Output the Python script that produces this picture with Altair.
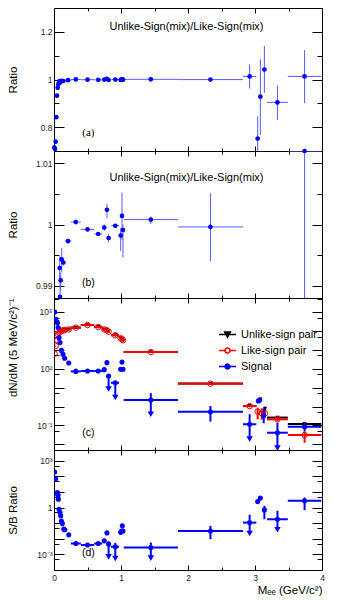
import altair as alt
import pandas as pd

FONT = "Liberation Sans"
W = 268
HA, HB, HC, HD = 143, 147, 152, 120

# ---------------- panel (a): Unlike-Sign(mix)/Like-Sign(mix) ----------------
a_mass = [0.005, 0.015, 0.025, 0.035, 0.045, 0.055, 0.065, 0.075, 0.085, 0.09, 0.10, 0.115, 0.14, 0.21,
          0.325, 0.50, 0.66, 0.75, 0.79, 0.815, 0.915, 0.995, 1.015, 1.03, 1.445, 2.335,
          2.92, 3.04, 3.08, 3.14, 3.335, 3.74]
a_val = [0.715, 0.708, 0.739, 0.842, 0.932, 0.965, 0.980, 0.986, 0.9929, 0.9882, 0.9909, 0.9943, 0.9938, 0.9973,
         1.0004, 0.9992, 0.9985, 0.9995, 1.0024, 0.9978, 0.9998, 0.9982, 1.0014, 0.9991, 1.0008, 0.9996,
         1.013, 0.752, 0.928, 1.042, 0.904, 1.013]
a_edn = [0, 0, 0, 0, 0, 0, 0, 0, 0, 0, 0, 0, 0, 0, 0, 0, 0, 0, 0, 0, 0, 0, 0, 0, 0, 0,
         0.051, 0.10, 0.161, 0.098, 0.073, 0.112]
a_eup = [0, 0, 0, 0, 0, 0, 0, 0, 0, 0, 0, 0, 0, 0, 0, 0, 0, 0, 0, 0, 0, 0, 0, 0, 0, 0,
         0.050, 0.093, 0.157, 0.099, 0.071, 0.110]
a_xw = [0, 0, 0, 0, 0, 0, 0, 0, 0, 0, 0, 0, 0, 0.05, 0.075, 0.10, 0.06, 0, 0, 0, 0.06, 0, 0, 0, 0.405, 0.485,
        0.10, 0, 0, 0, 0.155, 0.25]

# ---------------- panel (b): zoom of the same ratio ----------------
b_mass = [0.085, 0.09, 0.10, 0.115, 0.14, 0.21, 0.325, 0.50, 0.66, 0.75, 0.79, 0.815, 0.915, 0.995, 1.015,
          1.03, 1.445, 2.335, 3.74]
b_val = [0.9929, 0.9882, 0.9909, 0.9943, 0.9938, 0.9973, 1.0004, 0.9992, 0.99845, 0.9995, 1.0024, 0.9978,
         0.9998, 0.9982, 1.0014, 0.9991, 1.0008, 0.9996, 1.012]
b_edn = [0.0019, 0.0010, 0.0017, 0.0021, 0.0005, 0.0004, 0.0002, 0.0001, 0.0002, 0.0005, 0.0014, 0.0007,
         0.0003, 0.0025, 0.0039, 0.0045, 0.0007, 0.0056, 0.030]
b_eup = [0.0019, 0.0034, 0.0013, 0.0019, 0.0005, 0.0004, 0.0002, 0.0001, 0.0002, 0.0005, 0.0010, 0.0007,
         0.0003, 0.0012, 0.0038, 0.0009, 0.0005, 0.0055, 0.0]
b_xw = [0, 0, 0, 0, 0, 0.05, 0.075, 0.10, 0.06, 0, 0, 0, 0.06, 0, 0, 0, 0.405, 0.485, 0.25]

# ---------------- panel (c): dN/dM ----------------
SERIES = ["Unlike-sign pair", "Like-sign pair", "Signal"]

c_sig_mass = [0.01, 0.025, 0.05, 0.06, 0.075, 0.09, 0.11, 0.135, 0.16, 0.22, 0.325, 0.50, 0.66, 0.75, 0.79,
              0.815, 0.915, 0.995, 1.015, 1.03, 1.445, 2.335, 2.92, 3.05, 3.07, 3.13, 3.335, 3.74]
c_sig_val = [1.0e5, 4.1e4, 2.7e4, 1.5e4, 4.4e3, 2.4e3, 930, 575, 355, 200, 72, 76, 76, 89, 209,
             41, 18, 93, 224, 93, 2.2, 0.52, 0.115, 1.95, 2.2, 0.32, 0.041, 0.085]
c_sig_lo = [None, None, None, None, None, None, None, None, None, None, 52, None, None, 70, None,
            None, None, None, None, None, 2.2, 0.16, 0.115, 1.6, 1.8, 0.13, 0.041, 0.05]
c_sig_hi = [None, None, None, None, None, None, None, None, None, None, 100, None, None, 115, None,
            None, None, None, None, None, 5.1, 1.06, 0.39, 2.3, 2.6, 0.8, 0.14, 0.14]
c_sig_xlo = [None, None, None, None, None, None, None, None, None, 0.19, 0.25, 0.40, 0.60, None, None,
             None, 0.85, None, None, None, 1.04, 1.85, 2.82, None, None, None, 3.18, 3.49]
c_sig_xhi = [None, None, None, None, None, None, None, None, None, 0.25, 0.40, 0.60, 0.72, None, None,
             None, 0.97, None, None, None, 1.85, 2.82, 3.02, None, None, None, 3.49, 3.99]
c_sig_tip = [None, None, None, None, None, None, None, None, None, None, None, None, None, None, None,
             8.5, 3.0, None, None, None, 0.39, None, 0.019, None, None, None, 0.0063, None]

c_like_mass = [0.01, 0.025, 0.05, 0.06, 0.075, 0.09, 0.11, 0.135, 0.16, 0.22, 0.325, 0.50, 0.66, 0.75, 0.79,
               0.815, 0.915, 0.995, 1.015, 1.03, 1.445, 2.335, 2.92, 3.04, 3.10, 3.15, 3.335, 3.74]
c_like_val = [620, 1600, 3200, 6600, 7900, 9100, 10000, 10700, 11200, 12000, 14800, 20400, 16200, 12000, 10700,
              9100, 5900, 4100, 3600, 3200, 760, 16, 1.05, 0.54, 0.44, 0.44, 0.21, 0.031]
c_like_lo = [None, None, None, None, None, None, None, None, None, None, None, None, None, None, None,
             None, None, None, None, None, None, None, None, 0.21, 0.2, 0.3, 0.17, 0.012]
c_like_hi = [None, None, None, None, None, None, None, None, None, None, None, None, None, None, None,
             None, None, None, None, None, None, None, None, 0.87, 0.8, 0.6, 0.26, 0.05]
c_like_xlo = [0.005, 0.02, 0.045, 0.055, 0.07, 0.08, 0.10, 0.12, 0.15, 0.17, 0.25, 0.40, 0.60, 0.72, 0.78,
              0.80, 0.85, 0.99, 1.01, 1.02, 1.04, 1.85, 2.82, None, None, None, 3.18, 3.49]
c_like_xhi = [0.015, 0.03, 0.055, 0.065, 0.08, 0.10, 0.12, 0.15, 0.17, 0.25, 0.40, 0.60, 0.72, 0.77, 0.80,
              0.83, 0.97, 1.00, 1.02, 1.04, 1.85, 2.82, 3.02, None, None, None, 3.49, 3.99]

c_unl_mass = [0.01, 0.025, 0.05, 0.06, 0.075, 0.09, 0.11, 0.135, 0.16, 0.22, 0.325, 0.50, 0.66, 0.75, 0.79,
              0.815, 0.915, 0.995, 1.015, 1.03, 1.445, 2.335, 2.92, 3.05, 3.08, 3.15, 3.335, 3.74]
c_unl_val = [1.0e5, 4.3e4, 3.0e4, 2.2e4, 1.23e4, 1.15e4, 1.1e4, 1.13e4, 1.15e4, 1.22e4, 14900, 20500, 16300,
             12100, 10900, 9150, 5950, 4200, 3800, 3300, 765, 16.5, 1.07, 2.0, 2.4, 0.76, 0.26, 0.12]
c_unl_lo = [None, None, None, None, None, None, None, None, None, None, None, None, None, None, None,
            None, None, None, None, None, None, None, None, None, 2.0, 0.6, None, None]
c_unl_hi = [None, None, None, None, None, None, None, None, None, None, None, None, None, None, None,
            None, None, None, None, None, None, None, None, None, 2.9, 1.0, None, None]
c_unl_xlo = c_like_xlo
c_unl_xhi = c_like_xhi

# ---------------- panel (d): S/B ratio ----------------
d_mass = [0.01, 0.025, 0.05, 0.055, 0.06, 0.065, 0.075, 0.09, 0.10, 0.11, 0.125, 0.145, 0.16, 0.22, 0.325,
          0.50, 0.66, 0.75, 0.79, 0.815, 0.915, 0.995, 1.01, 1.02, 1.03, 1.445, 2.335, 2.92, 3.04, 3.08,
          3.14, 3.335, 3.74]
d_val = [195, 68, 9.3, 7.9, 6.3, 3.5, 0.79, 0.49, 0.30, 0.14, 0.095, 0.042, 0.038, 0.018, 0.0050,
         0.0040, 0.0050, 0.0074, 0.024, 0.0046, 0.0031, 0.026, 0.032, 0.068, 0.032, 0.0028, 0.032, 0.11, 2.5, 4.1,
         0.72, 0.18, 2.75]
d_lo = [None, None, None, None, None, None, None, None, None, None, None, None, None, None, None,
        None, None, None, None, 0.0046, 0.0031, None, None, None, None, 0.0028, 0.0095, 0.11, 2.0, 3.4,
        0.18, 0.18, 0.69]
d_hi = [None, None, None, None, None, None, None, None, None, None, None, None, None, None, None,
        None, None, None, None, 0.007, 0.0055, None, None, None, None, 0.0058, 0.068, 0.35, 3.1, 5.0,
        1.3, 0.63, 4.5]
d_xlo = [None, None, None, None, None, None, None, None, None, None, None, None, None, None, 0.25,
         0.40, 0.60, None, None, None, 0.85, None, None, None, None, 1.04, 1.85, 2.82, None, None,
         None, 3.18, 3.49]
d_xhi = [None, None, None, None, None, None, None, None, None, None, None, None, None, None, 0.40,
         0.60, 0.72, None, None, None, 0.97, None, None, None, None, 1.85, 2.82, 3.02, None, None,
         None, 3.49, 3.99]
d_tip = [None, None, None, None, None, None, None, None, None, None, None, None, None, None, None,
         None, None, None, None, 0.0007, 0.00055, None, None, None, None, 0.00058, None, 0.022, None, None,
         None, 0.038, None]

# ---------------- tick values ----------------
X_MAJOR = [0, 1, 2, 3, 4]
X_MINOR = [0.5, 1.5, 2.5, 3.5]
A_MAJOR, A_MINOR = [0.8, 1.0, 1.2], [0.9, 1.1]
B_MAJOR, B_MINOR = [0.99, 1.0, 1.01], [0.995, 1.005]
C_MAJOR = [1e-2, 1e-1, 1, 10, 100, 1e3, 1e4, 1e5]
C_MINOR = [5e-2, 0.5, 5, 50, 500, 5e3, 5e4, 5e5]
D_MAJOR = [1e-3, 1e-2, 1e-1, 1, 10, 100, 1e3]
D_MINOR = [5e-4, 5e-3, 5e-2, 0.5, 5, 50, 500]

XS = alt.Scale(domain=[0, 4], nice=False, zero=False)
YS_A = alt.Scale(domain=[0.7, 1.3], nice=False, zero=False)
YS_B = alt.Scale(domain=[0.988, 1.012], nice=False, zero=False)
YS_C = alt.Scale(type="log", domain=[5e-3, 5.5e5], nice=False)
YS_D = alt.Scale(type="log", domain=[1e-4, 5e3], nice=False)


def frame_sym(mass, val, edn, eup, xw):
    return pd.DataFrame({"m": mass, "v": val,
                         "lo": [v - e for v, e in zip(val, edn)],
                         "hi": [v + e for v, e in zip(val, eup)],
                         "xlo": [m - w for m, w in zip(mass, xw)],
                         "xhi": [m + w for m, w in zip(mass, xw)]})


def frame_abs(mass, val, lo, hi, xlo, xhi, tip=None):
    return pd.DataFrame({"m": mass, "v": val, "lo": lo, "hi": hi, "xlo": xlo, "xhi": xhi,
                         "tip": tip if tip is not None else [None] * len(mass)})


def xq(f):
    return alt.X(f"{f}:Q", scale=XS, axis=None)


def yq(f, ys):
    return alt.Y(f"{f}:Q", scale=ys, axis=None)


def hbars(df, ys, color, sw):
    return (alt.Chart(df).transform_filter("isValid(datum.xlo) && isValid(datum.xhi) && datum.xhi > datum.xlo")
            .mark_rule(color=color, strokeWidth=sw, clip=True)
            .encode(x=xq("xlo"), x2="xhi:Q", y=yq("v", ys)))


def vbars(df, ys, color, sw):
    return (alt.Chart(df).transform_filter("isValid(datum.lo) && isValid(datum.hi) && datum.hi > datum.lo")
            .mark_rule(color=color, strokeWidth=sw, clip=True)
            .encode(x=xq("m"), y=yq("lo", ys), y2="hi:Q"))


def arrows(df, ys, color, sw):
    base = alt.Chart(df).transform_filter("isValid(datum.tip)")
    line = base.mark_rule(color=color, strokeWidth=sw, clip=True).encode(x=xq("m"), y=yq("tip", ys), y2="v:Q")
    head = base.mark_point(shape="triangle-down", filled=True, color=color, size=42, opacity=1,
                           clip=True).encode(x=xq("m"), y=yq("tip", ys))
    return [line, head]


def dots(df, ys, color, size, clip=True):
    return (alt.Chart(df).mark_point(shape="circle", filled=True, color=color, size=size, opacity=1, clip=clip)
            .encode(x=xq("m"), y=yq("v", ys)))


def axis_layers(ys, ydummy, ymaj, ymin, ytitle, ylab_expr=None, yfmt=None, title_anchor="middle",
                xlabels=False, xtitle=None):
    dummy = pd.DataFrame({"x": [2.0], "y": [ydummy]})
    common = dict(domain=False, grid=False, tickColor="black", tickWidth=1)

    def xa(orient, vals, size, labels=False, title=None):
        kw = dict(orient=orient, values=vals, tickSize=size, offset=-size, labels=labels, title=title, **common)
        if labels:
            kw.update(labelFont=FONT, labelFontSize=8.5, labelColor="#222", labelPadding=3,
                      labelOverlap=False, labelFlush=False)
        if title:
            kw.update(titleFont=FONT, titleFontSize=11.5, titleFontWeight="normal", titleColor="black",
                      titleAnchor="end", titlePadding=3)
        return alt.Axis(**kw)

    def ya(orient, vals, size, labels=False, title=None):
        kw = dict(orient=orient, values=vals, tickSize=size, offset=-size, labels=labels, title=title, **common)
        if labels:
            kw.update(labelFont=FONT, labelFontSize=8.5, labelColor="#222", labelPadding=2,
                      labelOverlap=False)
            if ylab_expr:
                kw["labelExpr"] = ylab_expr
            if yfmt:
                kw["format"] = yfmt
        if title:
            kw.update(titleFont=FONT, titleFontSize=11.5, titleFontWeight="normal", titleColor="black",
                      titleAnchor=title_anchor, titleAngle=270, titleBaseline="middle", titleX=-51)
        return alt.Axis(**kw)

    base = alt.Chart(dummy).mark_point(opacity=0)
    layers = [
        base.encode(x=alt.X("x:Q", scale=XS, axis=xa("bottom", X_MAJOR, 5, xlabels, xtitle)),
                    y=alt.Y("y:Q", scale=ys, axis=ya("left", ymaj, 10, True, ytitle))),
        base.encode(x=alt.X("x:Q", scale=XS, axis=xa("bottom", X_MINOR, 3)),
                    y=alt.Y("y:Q", scale=ys, axis=ya("left", ymin, 5))),
        base.encode(x=alt.X("x:Q", scale=XS, axis=xa("top", X_MAJOR, 5)),
                    y=alt.Y("y:Q", scale=ys, axis=ya("right", ymaj, 10))),
        base.encode(x=alt.X("x:Q", scale=XS, axis=xa("top", X_MINOR, 3)),
                    y=alt.Y("y:Q", scale=ys, axis=ya("right", ymin, 5))),
    ]
    return layers


def text_layer(txt, x, y, size=11, font=FONT):
    return (alt.Chart(pd.DataFrame({"t": [txt]})).mark_text(font=font, fontSize=size, align="center",
                                                             baseline="middle", color="black")
            .encode(text="t:N", x=alt.value(x), y=alt.value(y)))


def panel(layers, h):
    return alt.layer(*layers).resolve_axis(x="independent", y="independent").properties(width=W, height=h)


ERR_THIN = "#5a5aff"
TITLE = "Unlike-Sign(mix)/Like-Sign(mix)"

# ---- (a)
dfa = frame_sym(a_mass, a_val, a_edn, a_eup, a_xw)
pa = panel([hbars(dfa, YS_A, ERR_THIN, 1), vbars(dfa, YS_A, ERR_THIN, 1), dots(dfa, YS_A, "#0000ff", 22, False),
            text_layer(TITLE, 132.5, 19), text_layer("(a)", 34.4, 125.3, 11, "Liberation Serif")]
           + axis_layers(YS_A, 1.0, A_MAJOR, A_MINOR, "Ratio", yfmt="~g"), HA)

# ---- (b)
dfb = frame_sym(b_mass, b_val, b_edn, b_eup, b_xw)
pb = panel([hbars(dfb, YS_B, ERR_THIN, 1), vbars(dfb, YS_B, ERR_THIN, 1), dots(dfb, YS_B, "#0000ff", 22, False),
            text_layer(TITLE, 132.5, 26.7), text_layer("(b)", 34.4, 132.3, 10.5)]
           + axis_layers(YS_B, 1.0, B_MAJOR, B_MINOR, "Ratio", yfmt="~g"), HB)

# ---- (c)
dfs = frame_abs(c_sig_mass, c_sig_val, c_sig_lo, c_sig_hi, c_sig_xlo, c_sig_xhi, c_sig_tip)
dfl = frame_abs(c_like_mass, c_like_val, c_like_lo, c_like_hi, c_like_xlo, c_like_xhi)
dfu = frame_abs(c_unl_mass, c_unl_val, c_unl_lo, c_unl_hi, c_unl_xlo, c_unl_xhi)

c_lab = ("abs(log(datum.value)/LN10 - 5) < 0.01 ? '10\u2075' : "
         "abs(log(datum.value)/LN10 - 2) < 0.01 ? '10\u00b2' : "
         "abs(log(datum.value)/LN10 + 1) < 0.01 ? '10\u207b\u00b9' : ''")
d_lab = ("abs(log(datum.value)/LN10 - 3) < 0.01 ? '10\u00b3' : "
         "abs(log(datum.value)/LN10) < 0.01 ? '1' : "
         "abs(log(datum.value)/LN10 + 3) < 0.01 ? '10\u207b\u00b3' : ''")

LEG_PATHS = ["M-1,0H1M-0.32,-0.28L0.32,-0.28L0,0.3Z",
             "M-1,0H-0.3M0.3,0H1M0.3,0A0.3,0.3,0,1,1,-0.3,0A0.3,0.3,0,1,1,0.3,0Z",
             "M-1,0H1M0.28,0A0.28,0.28,0,1,1,-0.28,0A0.28,0.28,0,1,1,0.28,0Z"]
# the legend is placed at the top level of the stacked layout; y counts from the top of panel (a)
leg = alt.Legend(orient="none", legendX=164, legendY=HA + HB + 27, title=None, labelFont=FONT, labelFontSize=11,
                 labelColor="black", symbolSize=289, symbolStrokeWidth=1.6, labelOffset=4, rowPadding=0,
                 padding=0, labelLimit=200)
legend_layer = (alt.Chart(pd.DataFrame({"s": SERIES, "m": [1, 1, 1], "v": [1, 1, 1]}))
                .transform_filter("false")
                .mark_point(filled=False, opacity=1)
                .encode(x=xq("m"), y=yq("v", YS_C),
                        shape=alt.Shape("s:N", scale=alt.Scale(domain=SERIES, range=LEG_PATHS), legend=leg),
                        stroke=alt.Stroke("s:N", scale=alt.Scale(domain=SERIES, range=["black", "red", "blue"]),
                                          legend=leg),
                        fill=alt.Fill("s:N", scale=alt.Scale(domain=SERIES,
                                                             range=["black", "transparent", "blue"]),
                                      legend=leg)))

unl_pts = (alt.Chart(dfu).mark_point(shape="triangle-down", filled=True, color="black", size=18, opacity=1,
                                     clip=True).encode(x=xq("m"), y=yq("v", YS_C)))
like_pts = (alt.Chart(dfl).mark_point(shape="circle", filled=False, stroke="red", fill="transparent",
                                      strokeWidth=1, size=30, opacity=1, clip=True)
            .encode(x=xq("m"), y=yq("v", YS_C)))

pc = panel([hbars(dfu, YS_C, "black", 2), vbars(dfu, YS_C, "black", 2), unl_pts,
            hbars(dfl, YS_C, "red", 2), vbars(dfl, YS_C, "red", 2), like_pts,
            hbars(dfs, YS_C, "blue", 2), vbars(dfs, YS_C, "blue", 2)] + arrows(dfs, YS_C, "blue", 2)
           + [dots(dfs, YS_C, "#0000ff", 26), legend_layer, text_layer("(c)", 34.4, 135.3, 10.5)]
           + axis_layers(YS_C, 1.0, C_MAJOR, C_MINOR, "dN/dM (5 MeV/c\u00b2)\u207b\u00b9", ylab_expr=c_lab,
                         title_anchor="end"), HC)

# ---- (d)
dfd = frame_abs(d_mass, d_val, d_lo, d_hi, d_xlo, d_xhi, d_tip)
pdd = panel([hbars(dfd, YS_D, "blue", 2), vbars(dfd, YS_D, "blue", 2)] + arrows(dfd, YS_D, "blue", 2)
            + [dots(dfd, YS_D, "#0000ff", 26), text_layer("(d)", 34.4, 102.7, 10.5)]
            + axis_layers(YS_D, 1.0, D_MAJOR, D_MINOR, "S/B Ratio", ylab_expr=d_lab,
                          xlabels=True, xtitle="M\u2091\u2091 (GeV/c\u00b2)"), HD)

chart = (alt.vconcat(pa, pb, pc, pdd, spacing=0, bounds="flush")
         .properties(padding={"left": 6, "top": 7, "right": 0, "bottom": 0})
         .configure(font=FONT)
         .configure_view(stroke="black", strokeWidth=1))

chart.save("out.html", embed_options={"renderer": "svg", "actions": False})
